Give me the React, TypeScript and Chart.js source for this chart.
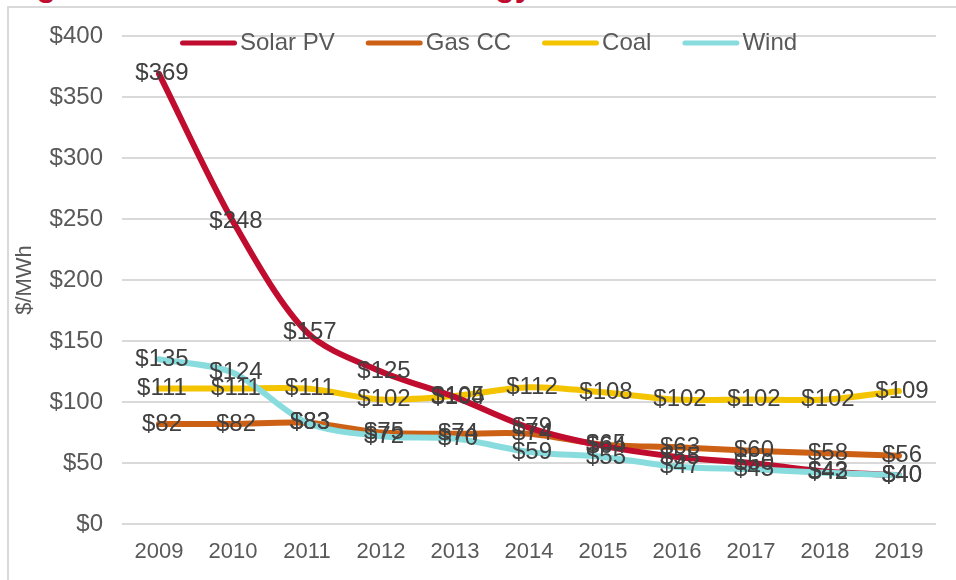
import React, { useEffect, useRef } from "react";
import { Chart, registerables } from "chart.js";

Chart.register(...registerables);

// ---- data ----
const years = ["2009", "2010", "2011", "2012", "2013", "2014", "2015", "2016", "2017", "2018", "2019"];
const solarPV = [369, 248, 157, 125, 104, 79, 64, 55, 50, 43, 40];
const gasCC = [82, 82, 83, 75, 74, 74, 65, 63, 60, 58, 56];
const coal = [111, 111, 111, 102, 105, 112, 108, 102, 102, 102, 109];
const wind = [135, 124, 83, 72, 70, 59, 55, 47, 45, 42, 40];
const seriesNames = ["Solar PV", "Gas CC", "Coal", "Wind"];
const seriesColors = ["#C00D2F", "#CC6116", "#F4C400", "#88DCDE"];
const seriesDrawOrder = [1, 2, 3, 0];
const yMin = 0;
const yMax = 400;
const yStep = 50;
const yTitle = "$/MWh";
const pageTitle = "Figure 1: Levelized Cost of Energy";

const FONT = '"Liberation Sans", Arial, sans-serif';

const dataLabelPlugin = {
  id: "dataLabels",
  afterDatasetsDraw(chart: any) {
    const ctx = chart.ctx;
    ctx.save();
    ctx.font = `24px ${FONT}`;
    ctx.fillStyle = "#404040";
    ctx.textAlign = "center";
    ctx.textBaseline = "middle";
    chart.data.datasets.forEach((ds: any, i: number) => {
      const meta = chart.getDatasetMeta(i);
      meta.data.forEach((pt: any, j: number) => {
        ctx.fillText("$" + ds.data[j], pt.x + 3, pt.y);
      });
    });
    ctx.restore();
  },
};

const legendPlugin = {
  id: "customLegend",
  afterDraw(chart: any) {
    const ctx = chart.ctx;
    ctx.save();
    ctx.font = `24px ${FONT}`;
    ctx.textBaseline = "middle";
    ctx.textAlign = "left";
    let x = 180;
    const y = 43;
    chart.data.datasets.forEach((ds: any) => {
      ctx.strokeStyle = ds.borderColor;
      ctx.lineWidth = 5;
      ctx.lineCap = "round";
      ctx.beginPath();
      ctx.moveTo(x + 2.5, y);
      ctx.lineTo(x + 54.5, y);
      ctx.stroke();
      ctx.fillStyle = "#595959";
      ctx.fillText(ds.label, x + 60, y);
      x += 60 + ctx.measureText(ds.label).width + 31;
    });
    ctx.restore();
  },
};

export default function App() {
  const canvasRef = useRef<HTMLCanvasElement | null>(null);

  useEffect(() => {
    if (!canvasRef.current) return;
    const seriesValues = [solarPV, gasCC, coal, wind];
    const chart = new Chart(canvasRef.current, {
      type: "line",
      data: {
        labels: years,
        datasets: seriesNames.map((name, i) => ({
          label: name,
          data: seriesValues[i],
          borderColor: seriesColors[i],
          backgroundColor: seriesColors[i],
          borderWidth: 6,
          tension: 0.3,
          pointRadius: 0,
          pointHoverRadius: 0,
          borderCapStyle: "round",
          borderJoinStyle: "round",
          fill: false,
          order: seriesDrawOrder[i],
        })),
      },
      options: {
        responsive: false,
        animation: false,
        devicePixelRatio: 1,
        layout: { padding: { left: 12, top: 36, right: 20, bottom: 0 } },
        plugins: {
          legend: { display: false },
          tooltip: { enabled: false },
          title: { display: false },
        },
        font: { family: FONT },
        scales: {
          x: {
            offset: true,
            grid: { display: false, drawTicks: false, offset: true },
            border: { display: false },
            ticks: {
              font: { family: FONT, size: 22 },
              color: "#595959",
              padding: 15,
              maxRotation: 0,
              autoSkip: false,
            },
            afterFit: (s: any) => {
              s.height = 56;
            },
          },
          y: {
            min: yMin,
            max: yMax,
            ticks: {
              stepSize: yStep,
              callback: (v: any) => "$" + v,
              font: { family: FONT, size: 24 },
              color: "#595959",
              padding: 19,
            },
            grid: { color: "#D9D9D9", lineWidth: 2, drawTicks: false },
            border: { display: false },
            title: {
              display: true,
              text: yTitle,
              font: { family: FONT, size: 22 },
              color: "#595959",
              padding: 0,
            },
            afterFit: (s: any) => {
              s.width = 110;
            },
          },
        },
      } as any,
      plugins: [dataLabelPlugin, legendPlugin],
    });
    return () => chart.destroy();
  }, []);

  return (
    <div
      style={{
        position: "fixed",
        left: 0,
        top: 0,
        width: 956,
        height: 580,
        background: "#fff",
        overflow: "hidden",
      }}
    >
      <div
        style={{
          position: "absolute",
          left: 7,
          top: 6,
          width: 1200,
          height: 1200,
          border: "2px solid #D9D9D9",
          boxSizing: "border-box",
        }}
      />
      <div
        style={{
          position: "absolute",
          left: 8,
          top: -31,
          fontFamily: FONT,
          fontWeight: "bold",
          fontSize: 32,
          lineHeight: "32px",
          color: "#C00D2F",
          whiteSpace: "nowrap",
        }}
      >
        {pageTitle}
      </div>
      <canvas
        ref={canvasRef}
        width={956}
        height={580}
        style={{ position: "absolute", left: 0, top: 0 }}
      />
    </div>
  );
}
